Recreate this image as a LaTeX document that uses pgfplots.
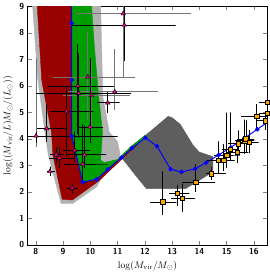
\documentclass[border=0pt]{standalone}
\usepackage{pgfplots}
\pgfplotsset{compat=1.18}
\newcommand{\tl}[1]{{\small\sffamily\bfseries #1}}
\begin{document}
\begin{tikzpicture}
\begin{axis}[
  scale only axis, width=249.5pt, height=248pt,
  xmin=7.7, xmax=16.5, ymin=0, ymax=9,
  xtick={8,9,10,11,12,13,14,15,16}, ytick={0,1,2,3,4,5,6,7,8,9},
  xticklabels={\tl{8},\tl{9},\tl{10},\tl{11},\tl{12},\tl{13},\tl{14},\tl{15},\tl{16}},
  yticklabels={\tl{0},\tl{1},\tl{2},\tl{3},\tl{4},\tl{5},\tl{6},\tl{7},\tl{8},\tl{9}},
  tick align=inside,
  xlabel={$\log(M_{\mathrm{vir}}/M_\odot)$},
  ylabel={$\log((M_{\mathrm{vir}}/L)M_\odot/(L_\odot))$},
]
\addplot[fill=gray!60, draw=gray!60] table {
x y
7.88 9.1
10.38 9.1
10.46 5.6
10.7 4.25
11.0 3.9
11.1 3.4
11.0 3.15
10.35 2.42
10.25 2.2
9.34 1.55
8.93 1.55
8.46 3.39
8.34 4.23
8.07 6.3
7.88 9.1
};
\addplot[fill=black!63, draw=black!63] table {
x y
11.17 3.27
11.55 3.75
12.05 4.15
12.86 4.85
13.0 4.8
13.3 4.55
13.77 3.76
14.0 3.5
14.5 3.33
14.5 2.75
13.5 2.12
12.06 2.12
11.6 2.7
11.17 3.27
};
\addplot[fill=red!60!black, draw=red!60!black] table {
x y
8.05 9.1
9.32 9.1
9.32 4.11
9.72 2.37
10.23 2.47
10.64 2.85
11.14 3.29
11.53 3.65
12.02 4.04
11.95 4.0
10.3 2.4
9.34 1.69
8.97 1.72
8.63 3.39
8.58 4.23
8.22 6.21
8.05 9.1
};
\addplot[fill=green!62!black, draw=green!62!black] table {
x y
9.32 9.1
10.04 9.1
10.15 7.5
10.3 5.7
10.45 4.25
10.38 3.2
10.5 3.1
11.0 3.22
11.5 3.72
12.02 4.14
12.03 4.04
11.53 3.65
11.14 3.29
10.64 2.85
10.23 2.47
9.72 2.37
9.32 4.11
9.32 9.1
};
\addplot[blue, line width=1pt, mark=*, mark size=1.8pt] table {
x y
9.32 9.6
9.32 8.36
9.32 6.22
9.32 4.11
9.72 2.37
10.23 2.47
10.64 2.85
11.14 3.29
11.53 3.65
12.02 4.04
12.45 3.72
12.95 2.85
13.35 2.75
13.85 2.87
14.25 3.1
14.71 3.39
15.16 3.68
15.66 4.03
16.13 4.36
16.6 4.7
};
% gray error bars
\addplot[black!55, line width=0.7pt] table {
x y
9.46 8.73
13.70 8.73
11.21 8.73
11.21 9.53
11.21 6.30
};
\addplot[black!55, line width=0.7pt] table {
x y
8.63 6.34
11.64 6.34
9.91 6.34
9.91 8.06
9.91 4.70
};
\addplot[black!55, line width=0.7pt] table {
x y
9.00 5.64
11.45 5.64
10.05 5.64
10.05 6.95
10.05 4.30
};
\addplot[black!55, line width=0.7pt] table {
x y
9.20 5.78
12.48 5.78
10.90 5.78
10.90 7.39
10.90 5.10
};
\addplot[black!55, line width=0.7pt] table {
x y
8.01 7.05
8.01 3.71
};
% black error bars, triangles
\addplot[black, line width=0.7pt] table {
x y
9.28 8.30
13.13 8.30
11.25 8.30
11.25 9.50
11.25 6.95
};
\addplot[black, line width=0.7pt] table {
x y
8.46 6.0
10.88 6.0
9.54 6.0
9.54 7.57
9.54 4.20
};
\addplot[black, line width=0.7pt] table {
x y
8.00 5.72
11.50 5.72
9.58 5.72
9.58 7.22
9.58 4.02
};
\addplot[black, line width=0.7pt] table {
x y
10.25 5.36
11.08 5.36
10.64 5.36
10.64 5.76
10.64 4.97
};
\addplot[black, line width=0.7pt] table {
x y
8.52 5.03
10.11 5.03
9.13 5.03
9.13 5.96
9.13 3.33
};
\addplot[black, line width=0.7pt] table {
x y
8.05 4.39
9.16 4.39
8.40 4.39
8.40 5.29
8.40 3.89
};
\addplot[black, line width=0.7pt] table {
x y
9.52 4.45
10.46 4.45
9.99 4.45
9.99 7.05
9.99 3.85
};
\addplot[black, line width=0.7pt] table {
x y
7.61 4.11
11.00 4.11
8.01 4.11
8.01 4.26
8.01 3.86
};
\addplot[black, line width=0.7pt] table {
x y
8.99 3.56
9.99 3.56
9.43 3.56
9.43 4.26
9.43 3.11
};
\addplot[black, line width=0.7pt] table {
x y
8.52 3.40
9.02 3.40
8.75 3.40
8.75 3.68
8.75 3.08
};
\addplot[black, line width=0.7pt] table {
x y
8.49 3.28
9.40 3.28
8.87 3.28
8.87 3.68
8.87 2.90
};
\addplot[black, line width=0.7pt] table {
x y
9.16 3.40
10.58 3.40
9.79 3.40
9.79 4.50
9.79 2.90
};
\addplot[black, line width=0.7pt] table {
x y
9.02 3.05
10.64 3.05
9.72 3.05
9.72 4.55
9.72 2.50
};
\addplot[black, line width=0.7pt] table {
x y
8.40 2.77
8.70 2.77
8.52 2.77
8.52 2.95
8.52 2.60
};
\addplot[black, line width=0.7pt] table {
x y
9.16 2.14
9.54 2.14
9.34 2.14
9.34 2.30
9.34 1.90
};
% black error bars, squares
\addplot[black, line width=0.7pt] table {
x y
12.19 1.62
13.16 1.62
12.66 1.62
12.66 2.77
12.66 1.14
};
\addplot[black, line width=0.7pt] table {
x y
12.90 1.95
13.64 1.95
13.19 1.95
13.19 2.26
13.19 1.47
};
\addplot[black, line width=0.7pt] table {
x y
12.96 1.77
13.85 1.77
13.37 1.77
13.37 2.31
13.37 1.24
};
\addplot[black, line width=0.7pt] table {
x y
13.37 2.37
14.58 2.37
13.87 2.37
13.87 3.04
13.87 1.99
};
\addplot[black, line width=0.7pt] table {
x y
14.24 2.68
14.98 2.68
14.43 2.68
14.43 2.95
14.43 2.45
};
\addplot[black, line width=0.7pt] table {
x y
14.29 3.20
15.09 3.20
14.69 3.20
14.69 3.90
14.69 2.70
};
\addplot[black, line width=0.7pt] table {
x y
14.50 3.20
15.30 3.20
14.90 3.20
14.90 3.80
14.90 2.80
};
\addplot[black, line width=0.7pt] table {
x y
14.55 3.39
15.50 3.39
15.00 3.39
15.00 4.99
15.00 2.89
};
\addplot[black, line width=0.7pt] table {
x y
14.83 3.60
15.43 3.60
15.13 3.60
15.13 5.00
15.13 3.20
};
\addplot[black, line width=0.7pt] table {
x y
15.00 3.49
15.80 3.49
15.40 3.49
15.40 3.99
15.40 3.09
};
\addplot[black, line width=0.7pt] table {
x y
15.07 3.82
15.82 3.82
15.42 3.82
15.42 4.32
15.42 3.42
};
\addplot[black, line width=0.7pt] table {
x y
15.32 3.93
16.02 3.93
15.67 3.93
15.67 4.73
15.67 3.43
};
\addplot[black, line width=0.7pt] table {
x y
15.41 4.00
16.01 4.00
15.71 4.00
15.71 4.70
15.71 3.50
};
\addplot[black, line width=0.7pt] table {
x y
15.53 3.88
16.18 3.88
15.83 3.88
15.83 4.33
15.83 3.48
};
\addplot[black, line width=0.7pt] table {
x y
15.53 4.86
16.48 4.86
16.10 4.86
16.10 5.31
16.10 4.42
};
\addplot[black, line width=0.7pt] table {
x y
16.12 4.69
16.72 4.69
16.42 4.69
16.42 5.04
16.42 4.34
};
\addplot[black, line width=0.7pt] table {
x y
16.19 5.39
16.79 5.39
16.49 5.39
16.49 5.74
16.49 5.04
};
\addplot[black, line width=0.7pt] table {
x y
16.19 4.97
16.79 4.97
16.49 4.97
16.49 5.27
16.49 4.67
};
\addplot[only marks, mark=triangle*, mark size=2.7pt, fill=magenta, draw=black] table {
x y
11.21 8.73
9.91 6.34
10.05 5.64
10.9 5.78
11.25 8.30
9.54 6.0
9.58 5.72
10.64 5.36
9.13 5.03
8.4 4.39
9.99 4.45
8.01 4.11
9.43 3.56
8.75 3.40
8.87 3.28
9.79 3.40
9.72 3.05
8.52 2.77
9.34 2.14
};
\addplot[only marks, mark=square*, mark size=2.3pt, fill=orange!70!yellow, draw=black] table {
x y
12.66 1.62
13.19 1.95
13.37 1.77
13.87 2.37
14.43 2.68
14.69 3.20
14.9 3.2
15.0 3.39
15.13 3.6
15.4 3.49
15.42 3.82
15.67 3.93
15.71 4.0
15.83 3.88
16.1 4.86
16.42 4.69
16.49 5.39
16.49 4.97
};
\end{axis}
\end{tikzpicture}
\end{document}
